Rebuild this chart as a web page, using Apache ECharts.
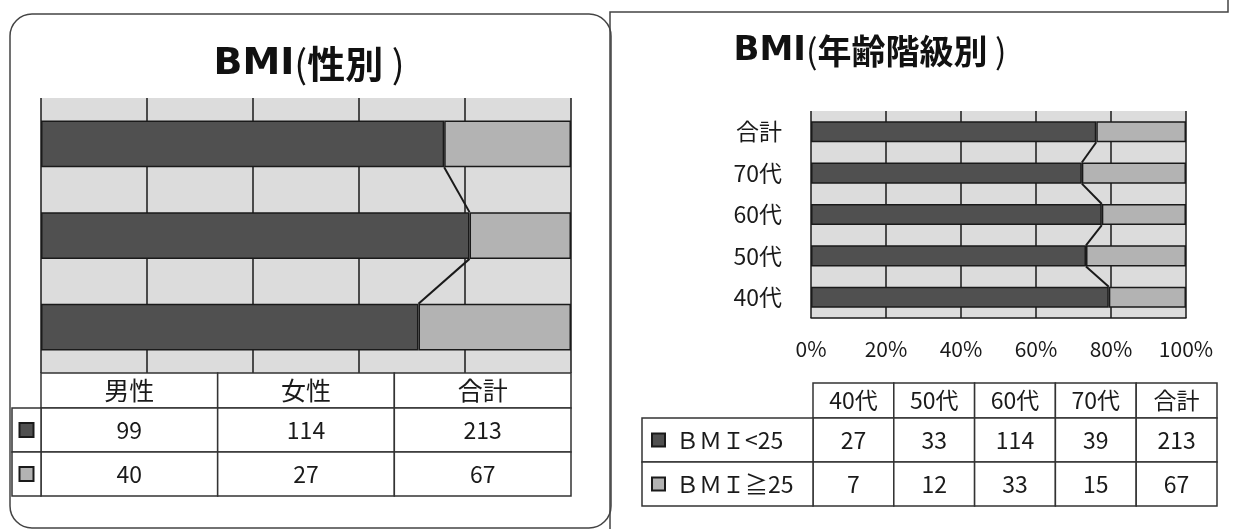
<!DOCTYPE html>
<html>
<head>
<meta charset="utf-8">
<script src="https://cdn.jsdelivr.net/npm/echarts@6/dist/echarts.min.js"></script>
<style>
  html, body { margin: 0; padding: 0; background: #fff; }
  #chart { width: 1234px; height: 529px; }
</style>
</head>
<body>
<div id="chart"></div>
<script>
// 性別
const sexCategories = ['男性', '女性', '合計'];
const sexUnder25 = [99, 114, 213];
const sexOver25 = [40, 27, 67];

// 年齢階級別
const ageCategories = ['40代', '50代', '60代', '70代', '合計'];
const ageUnder25 = [27, 33, 114, 39, 213];
const ageOver25 = [7, 12, 33, 15, 67];

const seriesNames = ['ＢＭＩ<25', 'ＢＭＩ≧25'];
const titleSubjects = ['性別', '年齢階級別'];

// styling
const FONT = '"Noto Sans CJK JP", "Noto Sans", sans-serif';
const LATIN_BOLD = '"DejaVu Sans", sans-serif';
const INK = '#1a1a1a';
const DARK = '#505050';
const LIGHT = '#b3b3b3';
const PLOT_BG = '#dcdcdc';
const BAR_FRAC = 0.51;
const BAR_W = Math.round(BAR_FRAC * 100) + '%';
const ROW_TOPS = [0, 35, 79, 123];   // header row, then two data rows

// share of each group (100% stacked bars)
function share(part, other) {
  return part.map((v, i) => v / (v + other[i]) * 100);
}

const sexShareUnder = share(sexUnder25, sexOver25);
const sexShareOver = share(sexOver25, sexUnder25);
const ageShareUnder = share(ageUnder25, ageOver25);
const ageShareOver = share(ageOver25, ageUnder25);

// series lines joining the end of the first segment of neighbouring bars
function seriesLinePairs(shares) {
  const out = [];
  for (let i = 0; i < shares.length - 1; i++) out.push([shares[i], i, shares[i + 1], i + 1]);
  return out;
}

function seriesLine(xIdx, yIdx, shares) {
  return {
    type: 'custom',
    xAxisIndex: xIdx,
    yAxisIndex: yIdx,
    z: 5,
    silent: true,
    encode: { x: [0, 2], y: [1, 3] },
    data: seriesLinePairs(shares),
    renderItem: function (params, api) {
      const a = api.coord([api.value(0), api.value(1)]);
      const b = api.coord([api.value(2), api.value(3)]);
      const half = api.size([0, 1])[1] * BAR_FRAC / 2;
      return {
        type: 'line',
        shape: { x1: a[0], y1: a[1] - half, x2: b[0], y2: b[1] + half },
        style: { stroke: INK, lineWidth: 2 }
      };
    }
  };
}

function barPair(xIdx, yIdx, stack, under, over) {
  const common = {
    type: 'bar', xAxisIndex: xIdx, yAxisIndex: yIdx, stack: stack,
    barWidth: BAR_W, silent: true
  };
  return [
    Object.assign({}, common, {
      name: seriesNames[0], data: under,
      itemStyle: { color: DARK, borderColor: INK, borderWidth: 1.5 }
    }),
    Object.assign({}, common, {
      name: seriesNames[1], data: over,
      itemStyle: { color: LIGHT, borderColor: INK, borderWidth: 1.5 }
    })
  ];
}

// data table drawn cell by cell on a category axis
function tableSeries(xIdx, yIdx, cols, rows, opt) {
  const data = [];
  cols.forEach((c, ci) => data.push([ci, 0]));
  rows.forEach((row, ri) => row.forEach((v, ci) => data.push([ci, ri + 1])));
  const keyColors = [DARK, LIGHT];
  return {
    type: 'custom',
    xAxisIndex: xIdx,
    yAxisIndex: yIdx,
    silent: true,
    clip: false,
    encode: { x: 0, y: 1 },
    data: data,
    renderItem: function (params, api) {
      const c = api.value(0), r = api.value(1);
      const cs = params.coordSys;
      const w = api.size([1, 0])[0];
      const cx = api.coord([c, 0])[0];
      const top = cs.y + ROW_TOPS[r];
      const h = ROW_TOPS[r + 1] - ROW_TOPS[r];
      const text = r === 0 ? cols[c] : String(rows[r - 1][c]);
      const children = [
        { type: 'rect', shape: { x: cx - w / 2, y: top, width: w, height: h },
          style: { fill: '#fff', stroke: '#333', lineWidth: 1.5 } },
        { type: 'text', x: cx, y: top + h / 2,
          style: { text: text, fill: INK, fontFamily: FONT,
                   fontSize: r === 0 ? opt.headSize : opt.valueSize,
                   align: 'center', verticalAlign: 'middle',
                   textAlign: 'center', textVerticalAlign: 'middle' } }
      ];
      if (r > 0 && c === 0) {
        const kx = cs.x - opt.keyWidth;
        children.push({ type: 'rect', shape: { x: kx, y: top, width: opt.keyWidth, height: h },
          style: { fill: '#fff', stroke: '#333', lineWidth: 1.5 } });
        const sq = opt.keySize;
        const sqx = opt.keyLabel ? kx + opt.keyPad : kx + (opt.keyWidth - sq) / 2;
        children.push({ type: 'rect', shape: { x: sqx, y: top + h / 2 - sq / 2, width: sq, height: sq },
          style: { fill: keyColors[r - 1], stroke: INK, lineWidth: 2 } });
        if (opt.keyLabel) {
          children.push({ type: 'text', x: sqx + sq + 11, y: top + h / 2,
            style: { text: seriesNames[r - 1], fill: INK, fontFamily: FONT, fontSize: opt.valueSize,
                     align: 'left', verticalAlign: 'middle',
                     textAlign: 'left', textVerticalAlign: 'middle' } });
        }
      }
      return { type: 'group', children: children };
    }
  };
}

// panel heading: bold "BMI", thin brackets, bold subject
function heading(x, y, size, subject) {
  return {
    type: 'text', x: x, y: y,
    style: {
      text: '{b|BMI}{p|(}{k|' + subject + '}{p| )}',
      align: 'center', verticalAlign: 'middle',
      textAlign: 'center', textVerticalAlign: 'middle',
      rich: {
        b: { fontFamily: LATIN_BOLD, fontWeight: 'bold', fontSize: size, fill: '#111', color: '#111' },
        p: { fontFamily: FONT, fontWeight: 'normal', fontSize: size, fill: '#111', color: '#111' },
        k: { fontFamily: FONT, fontWeight: 'bold', fontSize: size, fill: '#111', color: '#111' }
      }
    }
  };
}

const valueAxisBase = {
  type: 'value', min: 0, max: 100, interval: 20,
  axisTick: { show: false },
  splitLine: { show: true, lineStyle: { color: INK, width: 1.5 } }
};

const option = {
  animation: false,
  backgroundColor: '#fff',
  grid: [
    { left: 41, top: 98, width: 530, height: 275, show: true, backgroundColor: PLOT_BG, borderWidth: 0 },
    { left: 41, top: 373, width: 530, height: 123 },
    { left: 811, top: 111, width: 375, height: 207, show: true, backgroundColor: PLOT_BG, borderWidth: 0 },
    { left: 813, top: 383, width: 404, height: 123 }
  ],
  xAxis: [
    Object.assign({}, valueAxisBase, { gridIndex: 0, axisLabel: { show: false }, axisLine: { show: false } }),
    { gridIndex: 1, type: 'category', data: sexCategories, show: false },
    Object.assign({}, valueAxisBase, {
      gridIndex: 2,
      axisLabel: { formatter: '{value}%', fontSize: 21, color: INK, margin: 21, fontFamily: FONT },
      axisLine: { show: true, lineStyle: { color: INK, width: 1.5 } }
    }),
    { gridIndex: 3, type: 'category', data: ageCategories, show: false }
  ],
  yAxis: [
    { gridIndex: 0, type: 'category', data: sexCategories,
      axisLabel: { show: false }, axisTick: { show: false }, axisLine: { show: false } },
    { gridIndex: 1, type: 'value', min: 0, max: 2, show: false },
    { gridIndex: 2, type: 'category', data: ageCategories,
      axisLabel: { fontSize: 23, color: INK, margin: 29, fontFamily: FONT },
      axisTick: { show: false }, axisLine: { show: false } },
    { gridIndex: 3, type: 'value', min: 0, max: 2, show: false }
  ],
  graphic: [
    { type: 'rect', shape: { x: 10, y: 14, width: 601, height: 514, r: 22 },
      style: { fill: 'none', stroke: '#444', lineWidth: 1.5 }, z: -1 },
    { type: 'polyline', shape: { points: [[610, 529], [610, 12], [1228, 12], [1228, 0]] },
      style: { fill: 'none', stroke: '#444', lineWidth: 1.5 }, z: -1 },
    heading(309, 64, 38, titleSubjects[0]),
    heading(870, 51, 34, titleSubjects[1])
  ],
  series: [
    ...barPair(0, 0, 'sex', sexShareUnder, sexShareOver),
    seriesLine(0, 0, sexShareUnder),
    tableSeries(1, 1, sexCategories, [sexUnder25, sexOver25],
      { headSize: 25, valueSize: 23, keyWidth: 29, keySize: 14, keyLabel: false }),
    ...barPair(2, 2, 'age', ageShareUnder, ageShareOver),
    seriesLine(2, 2, ageShareUnder),
    tableSeries(3, 3, ageCategories, [ageUnder25, ageOver25],
      { headSize: 23, valueSize: 23, keyWidth: 171, keySize: 13, keyPad: 10, keyLabel: true })
  ]
};

const chart = echarts.init(document.getElementById('chart'), null, { renderer: 'canvas' });
chart.setOption(option);
</script>
</body>
</html>
